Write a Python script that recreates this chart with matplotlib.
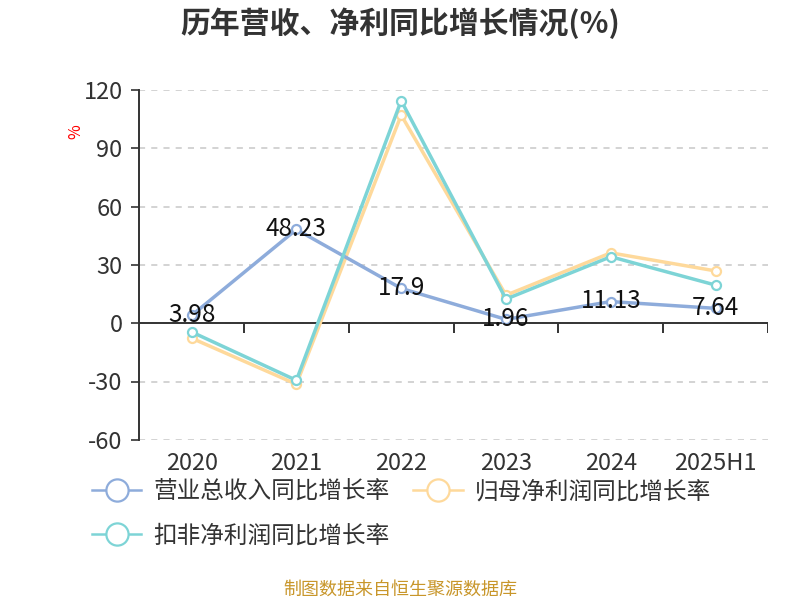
import numpy as np
import matplotlib
matplotlib.use("Agg")
import matplotlib.pyplot as plt
from matplotlib.lines import Line2D

plt.rcParams['font.family'] = ['Noto Sans CJK SC', 'DejaVu Sans']
plt.rcParams['axes.unicode_minus'] = False

# ── 数据 ──────────────────────────────────────────────────────────────────────
years = ["2020", "2021", "2022", "2023", "2024", "2025H1"]
revenue_yoy = [3.98, 48.23, 17.9, 1.96, 11.13, 7.64]
parent_np_yoy = [-7.7, -31.4, 107.1, 14.4, 36.2, 26.9]
deducted_np_yoy = [-4.5, -29.4, 114.5, 12.4, 34.2, 19.6]
y_ticks = [-60, -30, 0, 30, 60, 90, 120]

names = ["营业总收入同比增长率", "归母净利润同比增长率", "扣非净利润同比增长率"]
colors = ["#8eacdb", "#fed99b", "#7dd4d6"]

fig = plt.figure(figsize=(8, 6), dpi=100)
ax = fig.add_axes([0.174, 0.267, 0.786, 0.583])

x = np.arange(len(years))
series = [revenue_yoy, parent_np_yoy, deducted_np_yoy]
for vals, c, name, z in zip(series, colors, names, [3, 2, 4]):
    ax.plot(x, vals, color=c, lw=2.5, marker="o", ms=6.5,
            mfc="white", mec=c, mew=1.6, label=name, zorder=z)

# 营收数据标签
for xi, v in zip(x, revenue_yoy):
    ax.annotate(f"{v:g}", (xi, v), xytext=(0, 0.5), textcoords="offset points",
                ha="center", va="center", fontsize=17.5, color="#111111", zorder=6)

# 坐标轴
ax.set_xlim(-0.5, len(years) - 0.5)
ax.set_ylim(-60, 120)
ax.set_yticks(y_ticks)
ax.tick_params(axis="y", labelsize=17, labelcolor="#333333", length=6,
               width=1.2, color="#333333", pad=6)
ax.set_xticks(x)
ax.set_xticklabels(years)
ax.tick_params(axis="x", labelsize=17, labelcolor="#333333", length=0, pad=9)

for s in ["top", "right", "bottom"]:
    ax.spines[s].set_visible(False)
ax.spines["left"].set_color("#333333")
ax.spines["left"].set_linewidth(1.4)

ax.grid(axis="y", linestyle=(0, (4, 4)), color="#c8c8c8", lw=1.1)
ax.set_axisbelow(True)

# 零轴线及分类刻度
ax.axhline(0, color="#333333", lw=1.4, zorder=1)
ax.vlines(x + 0.5, -5, 0, color="#333333", lw=1.4, zorder=1)

ax.text(-0.1, 0.88, "%", transform=ax.transAxes, rotation=90, color="red",
        fontsize=11.5, ha="center", va="center")

# 标题
fig.text(0.5, 0.962, "历年营收、净利同比增长情况(%)", ha="center", va="center",
         fontsize=21.5, fontweight="bold", color="#333333")

# 图例（按行排列）
legend_handles = [Line2D([], [], color=c, lw=1.8, marker="o", ms=16,
                         mfc="white", mec=c, mew=1.6) for c in colors]
order = [0, 2, 1]
fig.legend([legend_handles[i] for i in order], [names[i] for i in order],
           ncol=2, loc="upper left", bbox_to_anchor=(0.103, 0.215),
           borderaxespad=0, frameon=False, fontsize=17, handlelength=2.1,
           handletextpad=0.5, columnspacing=1.0, labelspacing=0.9,
           labelcolor="#333333")

fig.text(0.5, 0.018, "制图数据来自恒生聚源数据库", ha="center", va="center",
         fontsize=13, color="#c8962a")

fig.savefig("out.png", dpi=100)
